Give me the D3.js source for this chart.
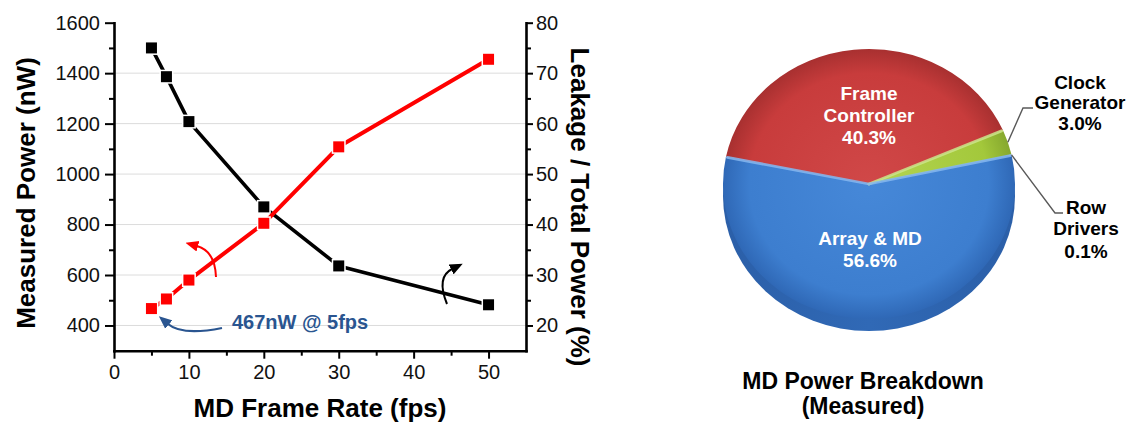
<!DOCTYPE html>
<html>
<head>
<meta charset="utf-8">
<script src="https://cdn.jsdelivr.net/npm/d3@7"></script>
<style>
  html, body { margin: 0; padding: 0; background: #fff; }
  svg { display: block; font-family: "Liberation Sans", Arial, sans-serif; }
</style>
</head>
<body>
<script>
// ---- Frame-rate sweep (left panel) ----
const frameRate     = [5, 7, 10, 20, 30, 50];               // fps
const measuredPower = [467, 505, 580, 805, 1108, 1455];     // nW (left axis)
const leakageShare  = [75.0, 69.3, 60.4, 43.5, 31.8, 24.1]; // % (right axis)

const xTicks      = [0, 10, 20, 30, 40, 50];
const xMinorTicks = [5, 15, 25, 35, 45];
const leftTicks   = [400, 600, 800, 1000, 1200, 1400, 1600];
const leftMinor   = [500, 700, 900, 1100, 1300, 1500];
const rightTicks  = [20, 30, 40, 50, 60, 70, 80];
const rightMinor  = [25, 35, 45, 55, 65, 75];

// ---- Power breakdown (right panel) ----
const blockNames  = ["Frame Controller", "Clock Generator", "Row Drivers", "Array & MD"];
const blockShares = [40.3, 3.0, 0.1, 56.6];

const W = 1133, H = 425;
const FONT = '"Liberation Sans", Arial, sans-serif';

const svg = d3.select("body").append("svg")
  .attr("width", W).attr("height", H)
  .attr("viewBox", `0 0 ${W} ${H}`);

const defs = svg.append("defs");

// ================= Left panel: dual-axis line chart =================
const plot = { left: 114, right: 526, top: 22.7, bottom: 350.7 };

const x  = d3.scaleLinear().domain([0, 55]).range([plot.left, plot.right]);
const yL = d3.scaleLinear().domain([300, 1600]).range([plot.bottom, plot.top]);
const yR = d3.scaleLinear().domain([15, 80]).range([plot.bottom, plot.top]);
const plain = d3.format("d");

// light horizontal grid at the major left ticks
svg.append("g").selectAll("line")
  .data(leftTicks.filter(v => v < 1600))
  .join("line")
  .attr("x1", plot.left).attr("x2", plot.right)
  .attr("y1", d => yL(d)).attr("y2", d => yL(d))
  .attr("stroke", "#dcdcdc").attr("stroke-width", 1);

function styleAxis(g) {
  g.selectAll(".domain").attr("stroke", "#000").attr("stroke-width", 2.6)
    .attr("stroke-linecap", "square");
  g.selectAll(".tick line").attr("stroke", "#000").attr("stroke-width", 2);
  g.selectAll(".tick text").attr("fill", "#111")
    .style("font-family", FONT).style("font-size", "20px");
}

// minor ticks
svg.append("g").attr("transform", `translate(${plot.left},0)`)
  .call(d3.axisLeft(yL).tickValues(leftMinor).tickSize(5).tickSizeOuter(0).tickFormat(""))
  .call(styleAxis).select(".domain").remove();
svg.append("g").attr("transform", `translate(${plot.right},0)`)
  .call(d3.axisRight(yR).tickValues(rightMinor).tickSize(5).tickSizeOuter(0).tickFormat(""))
  .call(styleAxis).select(".domain").remove();
svg.append("g").attr("transform", `translate(0,${plot.bottom})`)
  .call(d3.axisBottom(x).tickValues(xMinorTicks).tickSize(5).tickSizeOuter(0).tickFormat(""))
  .call(styleAxis).select(".domain").remove();

// major axes
svg.append("g").attr("transform", `translate(${plot.left},0)`)
  .call(d3.axisLeft(yL).tickValues(leftTicks).tickFormat(plain)
    .tickSize(9).tickPadding(5).tickSizeOuter(0))
  .call(styleAxis);
svg.append("g").attr("transform", `translate(${plot.right},0)`)
  .call(d3.axisRight(yR).tickValues(rightTicks).tickFormat(plain)
    .tickSize(7).tickPadding(3).tickSizeOuter(0))
  .call(styleAxis);
svg.append("g").attr("transform", `translate(0,${plot.bottom})`)
  .call(d3.axisBottom(x).tickValues(xTicks).tickFormat(plain)
    .tickSize(8).tickPadding(6).tickSizeOuter(0))
  .call(styleAxis);

// axis titles
svg.append("text")
  .attr("transform", "translate(26,193) rotate(-90)")
  .attr("text-anchor", "middle").attr("dominant-baseline", "central")
  .style("font-family", FONT).style("font-size", "26px").style("font-weight", "bold")
  .text("Measured Power (nW)");
svg.append("text")
  .attr("transform", "translate(580,207) rotate(90)")
  .attr("text-anchor", "middle").attr("dominant-baseline", "central")
  .style("font-family", FONT).style("font-size", "26px").style("font-weight", "bold")
  .text("Leakage / Total Power (%)");
svg.append("text")
  .attr("x", (plot.left + plot.right) / 2).attr("y", 417)
  .attr("text-anchor", "middle")
  .style("font-family", FONT).style("font-size", "26px").style("font-weight", "bold")
  .text("MD Frame Rate (fps)");

// series lines
const leakLine = d3.line().x((d, i) => x(frameRate[i])).y(d => yR(d));
const powerLine = d3.line().x((d, i) => x(frameRate[i])).y(d => yL(d));

function drawSeries(values, lineGen, yScale, color, width) {
  const g = svg.append("g");
  g.append("path").datum(values)
    .attr("d", lineGen).attr("fill", "none")
    .attr("stroke", color).attr("stroke-width", width)
    .attr("stroke-linejoin", "round");
  // white halo around square markers, then the marker itself
  g.selectAll("rect.halo").data(values).join("rect").attr("class", "halo")
    .attr("x", (d, i) => x(frameRate[i]) - 7).attr("y", d => yScale(d) - 7)
    .attr("width", 14).attr("height", 14).attr("fill", "#fff");
  g.selectAll("rect.mk").data(values).join("rect").attr("class", "mk")
    .attr("x", (d, i) => x(frameRate[i]) - 5.5).attr("y", d => yScale(d) - 5.5)
    .attr("width", 11).attr("height", 11).attr("fill", color);
}
drawSeries(leakageShare, leakLine, yR, "#000", 3.6);
drawSeries(measuredPower, powerLine, yL, "#ff0000", 4);

// arrowhead markers
function arrowMarker(id, color) {
  defs.append("marker")
    .attr("id", id).attr("viewBox", "0 -6 13 12")
    .attr("refX", 1).attr("refY", 0)
    .attr("markerWidth", 13).attr("markerHeight", 12)
    .attr("markerUnits", "userSpaceOnUse").attr("orient", "auto")
    .append("path").attr("d", "M0,-5.5L13,0L0,5.5Z").attr("fill", color);
}
arrowMarker("arrRed", "#ff0000");
arrowMarker("arrBlack", "#000");
arrowMarker("arrBlue", "#2a5590");

// curved pointers telling which axis each series belongs to
svg.append("path")
  .attr("d", "M216,277 Q215,251 197,246")
  .attr("fill", "none").attr("stroke", "#ff0000").attr("stroke-width", 2)
  .attr("marker-end", "url(#arrRed)");
svg.append("path")
  .attr("d", "M447,304 Q436,277 452,269")
  .attr("fill", "none").attr("stroke", "#000").attr("stroke-width", 2)
  .attr("marker-end", "url(#arrBlack)");

// callout for the lowest-power operating point
svg.append("path")
  .attr("d", "M222,328 Q182,336 168,324")
  .attr("fill", "none").attr("stroke", "#2a5590").attr("stroke-width", 2.2)
  .attr("marker-end", "url(#arrBlue)");
svg.append("text")
  .attr("x", 232).attr("y", 329)
  .style("font-family", FONT).style("font-size", "20px").style("font-weight", "bold")
  .attr("fill", "#2a5590")
  .text(`${measuredPower[0]}nW @ ${frameRate[0]}fps`);

// ================= Right panel: power breakdown pie =================
const cx = 869, cy = 184, rx = 146, ry = 135, depth = 12;
const deg = Math.PI / 180;
const startA = -78.5 * deg;

const sliceColors = {
  "Frame Controller": { base: "#c83c3c", light: "#d04848", dark: "#a83030", edge: "#dc6a6a" },
  "Clock Generator":  { base: "#a3c83b", light: "#b4d552", dark: "#86a82e", edge: "#cde68a" },
  "Row Drivers":      { base: "#8fb0d8", light: "#a8c4e6", dark: "#6e90bb", edge: "#c0d6ee" },
  "Array & MD":       { base: "#3d7ecf", light: "#4688d8", dark: "#2f68b6", edge: "#86b8f0" }
};

blockNames.forEach((name, i) => {
  const c = sliceColors[name];
  const grad = defs.append("radialGradient")
    .attr("id", "sliceGrad" + i)
    .attr("gradientUnits", "userSpaceOnUse")
    .attr("cx", 0).attr("cy", 0).attr("r", rx);
  grad.append("stop").attr("offset", "0%").attr("stop-color", c.light);
  grad.append("stop").attr("offset", "82%").attr("stop-color", c.base);
  grad.append("stop").attr("offset", "100%").attr("stop-color", c.dark);
});

const pieG = svg.append("g").attr("transform", `translate(${cx},${cy})`);

// side wall of the tilted disc (only the front shows, all Array & MD)
const wallGrad = defs.append("linearGradient").attr("id", "wallGrad")
  .attr("x1", 0).attr("x2", 1).attr("y1", 0).attr("y2", 0);
wallGrad.append("stop").attr("offset", "0%").attr("stop-color", "#2b5fa8");
wallGrad.append("stop").attr("offset", "50%").attr("stop-color", "#3069b6");
wallGrad.append("stop").attr("offset", "100%").attr("stop-color", "#2b5fa8");
pieG.append("ellipse")
  .attr("cx", 0).attr("cy", depth).attr("rx", rx).attr("ry", ry)
  .attr("fill", "url(#wallGrad)");

const pie = d3.pie().sort(null).value(d => d)
  .startAngle(startA).endAngle(startA + 2 * Math.PI);
const arcs = pie(blockShares);
const arcGen = d3.arc().innerRadius(0).outerRadius(rx);

const faceG = pieG.append("g").attr("transform", `scale(1,${ry / rx})`);
faceG.selectAll("path.slice").data(arcs).join("path").attr("class", "slice")
  .attr("d", arcGen)
  .attr("fill", (d, i) => `url(#sliceGrad${i})`);

// soft bevel highlight along the radial edges, tinted by the slice lying below
const blueEdge = sliceColors["Array & MD"].edge;
const bevelEdges = [
  { angle: arcs[3].endAngle,   color: blueEdge },                           // red / blue
  { angle: arcs[0].endAngle,   color: sliceColors["Clock Generator"].edge }, // red / green
  { angle: arcs[3].startAngle, color: blueEdge }                            // green / blue
];
faceG.selectAll("line.bevel").data(bevelEdges).join("line").attr("class", "bevel")
  .attr("x1", 0).attr("y1", 0)
  .attr("x2", d => rx * Math.sin(d.angle) * 0.99)
  .attr("y2", d => -rx * Math.cos(d.angle) * 0.99)
  .attr("stroke", d => d.color)
  .attr("stroke-width", 3).attr("stroke-linecap", "round").attr("opacity", 0.85);

// leader lines for the two thin slices
function rimPoint(a) {
  const mid = (a.startAngle + a.endAngle) / 2;
  return [cx + rx * Math.sin(mid), cy - ry * Math.cos(mid)];
}
const leaderPaths = [
  { idx: 1, elbow: [1023, 108], end: [1033, 108] },
  { idx: 2, elbow: [1055, 213], end: [1063, 213] }
];
leaderPaths.forEach(l => {
  const p = rimPoint(arcs[l.idx]);
  svg.append("polyline")
    .attr("points", [p, l.elbow, l.end].map(q => q.join(",")).join(" "))
    .attr("fill", "none").attr("stroke", "#595959").attr("stroke-width", 1.4);
});

// slice labels
function multiLabel(lines, xPos, ys, color) {
  const t = svg.append("text")
    .attr("text-anchor", "middle")
    .style("font-family", FONT).style("font-size", "19px").style("font-weight", "bold")
    .attr("fill", color);
  lines.forEach((s, k) => {
    t.append("tspan").attr("x", xPos).attr("y", ys[k])
      .attr("dominant-baseline", "central").text(s);
  });
}
const pct = v => v.toFixed(1) + "%";
multiLabel(["Frame", "Controller", pct(blockShares[0])], 869, [93.5, 115, 137], "#fff");
multiLabel(["Array & MD", pct(blockShares[3])], 870, [238.5, 260.5], "#fff");
multiLabel(["Clock", "Generator", pct(blockShares[1])], 1080, [82, 102, 123], "#000");
multiLabel(["Row", "Drivers", pct(blockShares[2])], 1086, [207, 228.5, 251], "#000");

// panel caption
svg.append("text")
  .attr("text-anchor", "middle")
  .style("font-family", FONT).style("font-size", "23px").style("font-weight", "bold")
  .call(t => {
    t.append("tspan").attr("x", 863).attr("y", 389).text("MD Power Breakdown");
    t.append("tspan").attr("x", 863).attr("y", 414).text("(Measured)");
  });
</script>
</body>
</html>
